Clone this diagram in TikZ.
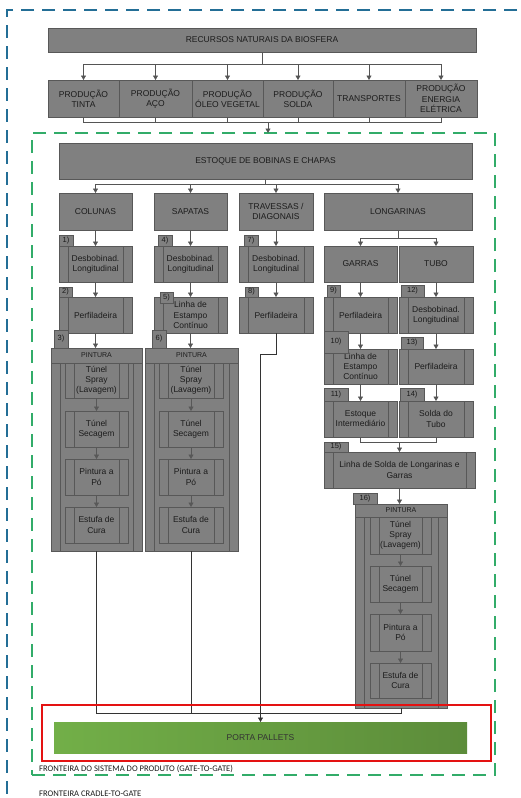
\documentclass[tikz,border=0pt]{standalone}
\usepackage{fontspec}
\setmainfont{Liberation Sans}
\newfontfamily\labelfont{Carlito}
\usetikzlibrary{arrows.meta}

\definecolor{boxgrey}{RGB}{128,128,128}
\definecolor{edgegrey}{RGB}{88,88,88}
\definecolor{inkgrey}{RGB}{28,28,28}
\definecolor{linegrey}{RGB}{85,85,85}
\definecolor{cradleblue}{RGB}{35,110,150}
\definecolor{gategreen}{RGB}{50,172,105}
\definecolor{zonered}{RGB}{228,18,18}
\definecolor{palletlight}{RGB}{114,175,72}
\definecolor{palletdark}{RGB}{92,140,58}

% box from corner (x1,y1) to corner (x2,y2): [style]{name}{x1}{y1}{x2}{y2}{text}
\newcommand\mkbox[7][]{%
  \node[gbox,#1,minimum width={(#5-#3)*1pt},minimum height={(#6-#4)*1pt}]
    (#2) at ({(#3+#5)/2},{(#4+#6)/2}) {#7};}

\tikzset{
  gbox/.style={draw=edgegrey, fill=boxgrey, line width=0.6pt, text=inkgrey,
    align=center, inner sep=0pt, outer sep=0pt,
    font=\fontsize{8.5}{10.2}\selectfont},
  sidebars/.style={path picture={
    \draw[edgegrey, line width=0.6pt]
      ([xshift=9pt]path picture bounding box.north west) --
      ([xshift=9pt]path picture bounding box.south west)
      ([xshift=-9pt]path picture bounding box.north east) --
      ([xshift=-9pt]path picture bounding box.south east);}},
  proc/.style={sidebars},
  tagbox/.style={font=\fontsize{7.5}{8}\selectfont},
  hdr/.style={font=\fontsize{7}{8}\selectfont},
  conn/.style={draw=linegrey, line width=0.6pt},
  arr/.style={conn, -{Triangle[width=5pt,length=4.5pt]}},
  inarr/.style={draw=edgegrey, line width=0.6pt, -{Triangle[width=5pt,length=4.5pt,fill=edgegrey]}},
  dconn/.style={draw=black!80, line width=0.6pt},
  darr/.style={dconn, -{Triangle[width=5pt,length=4.5pt]}},
  lbl/.style={font=\labelfont\fontsize{8.6}{9}\selectfont, text=inkgrey, inner sep=0pt, anchor=west},
}

\begin{document}
\begin{tikzpicture}[x=1pt,y=-1pt]
\clip (0,0) rectangle (520,798);
\fill[white] (0,0) rectangle (520,798);

% outer boundary (cradle-to-gate)
\mkbox[fill=none, draw=cradleblue, line width=1.3pt, dash pattern=on 13pt off 8pt]{cradle}{7}{10}{545}{830}{}
% inner boundary (gate-to-gate)
\mkbox[fill=none, draw=gategreen, line width=1.3pt, dash pattern=on 13pt off 8pt]{gate}{32}{133}{495}{775}{}

% natural resources and upstream production
\mkbox{rec}{48}{28}{476}{52}{RECURSOS NATURAIS DA BIOSFERA}
\mkbox{p1}{48}{80}{119}{117}{PRODUÇÃO\\TINTA}
\mkbox{p2}{119}{80}{192}{117}{PRODUÇÃO\\AÇO}
\mkbox{p3}{192}{80}{263}{117}{PRODUÇÃO\\ÓLEO VEGETAL}
\mkbox{p4}{263}{80}{333}{117}{PRODUÇÃO\\SOLDA}
\mkbox{p5}{333}{80}{405}{117}{TRANSPORTES}
\mkbox{p6}{405}{80}{477}{117}{PRODUÇÃO\\ENERGIA\\ELÉTRICA}

\draw[conn] (rec.south) -- ++(0,12) coordinate (jr);
\foreach \n in {p1,p2,p3,p4,p5,p6} \draw[arr] (jr) -| (\n.north);
\coordinate (jp) at (268,122);
\foreach \n in {p1,p2,p3,p4,p5,p6} \draw[conn] (\n.south) |- (jp);
\draw[arr] (jp) -- (jp |- gate.north);

% coil and sheet stock, product families
\mkbox{est}{59}{143}{472}{179}{ESTOQUE DE BOBINAS E CHAPAS}
\mkbox{col}{59}{193}{132}{230}{COLUNAS}
\mkbox{sap}{154}{193}{227}{230}{SAPATAS}
\mkbox{tra}{239}{193}{313}{230}{TRAVESSAS /\\DIAGONAIS}
\mkbox{lon}{324}{193}{472}{230}{LONGARINAS}
\draw[conn] (est.south) -- ++(0,5) coordinate (je);
\foreach \n in {col,sap,tra,lon} \draw[arr] (je) -| (\n.north);

% columns
\mkbox[proc]{d1}{59}{246}{132}{282}{Desbobinad.\\Longitudinal}
\mkbox[proc]{pf2}{59}{297}{132}{333}{Perfiladeira}
% base plates
\mkbox[proc]{d4}{154}{246}{227}{282}{Desbobinad.\\Longitudinal}
\mkbox[proc]{le5}{154}{297}{227}{333}{Linha de\\Estampo\\Contínuo}
% cross members
\mkbox[proc]{d7}{239}{246}{313}{282}{Desbobinad.\\Longitudinal}
\mkbox[proc]{pf8}{239}{297}{313}{333}{Perfiladeira}
% beams: hooks and tube
\mkbox{gar}{324}{246}{397}{282}{GARRAS}
\mkbox{tub}{399}{246}{473}{282}{TUBO}
\mkbox[proc]{pf9}{324}{297}{397}{333}{Perfiladeira}
\mkbox[proc]{d12}{399}{297}{473}{333}{Desbobinad.\\Longitudinal}
\mkbox[proc]{le10}{324}{349}{397}{384}{Linha de\\Estampo\\Contínuo}
\mkbox[proc]{pf13}{399}{349}{473}{384}{Perfiladeira}
\mkbox[proc]{ei11}{324}{401}{397}{437}{Estoque\\Intermediário}
\mkbox[proc]{st14}{399}{401}{473}{437}{Solda do\\Tubo}
\mkbox[proc]{ls15}{324}{452}{475}{488}{Linha de Solda de Longarinas e\\Garras}

\draw[arr] (col.south) -- (d1.north);
\draw[arr] (d1.south) -- (pf2.north);
\draw[arr] (sap.south) -- (d4.north);
\draw[arr] (d4.south) -- (le5.north);
\draw[arr] (tra.south) -- (d7.north);
\draw[arr] (d7.south) -- (pf8.north);
\draw[conn] (lon.south) -- ++(0,8) coordinate (jl);
\draw[arr] (jl) -| (gar.north);
\draw[arr] (jl) -| (tub.north);
\draw[arr] (gar.south) -- (pf9.north);
\draw[arr] (pf9.south) -- (le10.north);
\draw[arr] (le10.south) -- (ei11.north);
\draw[arr] (tub.south) -- (d12.north);
\draw[arr] (d12.south) -- (pf13.north);
\draw[arr] (pf13.south) -- (st14.north);
\coordinate (jx) at (399.5,442);
\draw[conn] (ei11.south) |- (jx);
\draw[conn] (st14.south) |- (jx);
\draw[arr] (jx) -- (ls15.north);

% painting lines
\mkbox[sidebars]{c1}{51}{363}{142}{551}{}
\mkbox[hdr]{c1h}{51}{348}{142}{363}{PINTURA}
\mkbox[proc]{s1a}{65}{363}{128}{398}{Túnel\\Spray\\(Lavagem)}
\mkbox[proc]{s1b}{65}{411}{128}{447}{Túnel\\Secagem}
\mkbox[proc]{s1c}{65}{459}{128}{495}{Pintura a\\Pó}
\mkbox[proc]{s1d}{65}{507}{128}{543}{Estufa de\\Cura}

\mkbox[sidebars]{c2}{145}{363}{238}{551}{}
\mkbox[hdr]{c2h}{145}{348}{238}{363}{PINTURA}
\mkbox[proc]{s2a}{159}{363}{223}{398}{Túnel\\Spray\\(Lavagem)}
\mkbox[proc]{s2b}{159}{411}{223}{447}{Túnel\\Secagem}
\mkbox[proc]{s2c}{159}{459}{223}{495}{Pintura a\\Pó}
\mkbox[proc]{s2d}{159}{507}{223}{543}{Estufa de\\Cura}

\mkbox[sidebars]{c3}{355}{517}{447}{708}{}
\mkbox[hdr]{c3h}{355}{504}{447}{517}{PINTURA}
\mkbox[proc]{s3a}{370}{517}{431}{554}{Túnel\\Spray\\(Lavagem)}
\mkbox[proc]{s3b}{370}{566}{431}{602}{Túnel\\Secagem}
\mkbox[proc]{s3c}{370}{614}{431}{651}{Pintura a\\Pó}
\mkbox[proc]{s3d}{370}{663}{431}{698}{Estufa de\\Cura}

\foreach \c in {1,2,3} {
  \draw[inarr] (s\c a.south) -- (s\c b.north);
  \draw[inarr] (s\c b.south) -- (s\c c.north);
  \draw[inarr] (s\c c.south) -- (s\c d.north);
}
\draw[arr] (pf2.south) -- (pf2.south |- c1h.north);
\draw[arr] (le5.south) -- (le5.south |- c2h.north);
\draw[arr] (ls15.south) -- (ls15.south |- c3h.north);

% step numbers
\mkbox[tagbox]{t1}{59}{235}{73}{246}{1)}
\mkbox[tagbox]{t2}{59}{287}{72}{297}{2)}
\mkbox[tagbox]{t3}{54}{330}{68}{348}{3)}
\mkbox[tagbox]{t4}{158}{235}{172}{246}{4)}
\mkbox[tagbox]{t5}{160}{292}{173}{303}{5)}
\mkbox[tagbox]{t6}{152}{330}{166}{348}{6)}
\mkbox[tagbox]{t7}{244}{235}{258}{246}{7)}
\mkbox[tagbox]{t8}{245}{287}{258}{297}{8)}
\mkbox[tagbox]{t9}{327}{285}{340}{297}{9)}
\mkbox[tagbox]{t10}{324}{331}{348}{353}{10)}
\mkbox[tagbox]{t11}{324}{388}{348}{401}{11)}
\mkbox[tagbox]{t12}{401}{285}{424}{297}{12)}
\mkbox[tagbox]{t13}{401}{337}{423}{349}{13)}
\mkbox[tagbox]{t14}{400}{388}{424}{401}{14)}
\mkbox[tagbox]{t15}{324}{442}{348}{452}{15)}
\mkbox[tagbox]{t16}{353}{493}{377}{504}{16)}

% pallet racks
\mkbox[draw=none, left color=palletlight, right color=palletdark,
  text=inkgrey!90]{pal}{54}{722}{467}{753}{PORTA PALLETS}
\coordinate (jpal) at (260.5,713);
\draw[dconn] (c1.south) |- (jpal);
\draw[dconn] (c2.south) |- (jpal);
\draw[dconn] (c3.south) |- (jpal);
\draw[darr] (pf8.south) -- ++(0,21) -| (pal.north);

\mkbox[fill=none, draw=zonered, line width=2.6pt]{zone}{42}{705}{491}{761}{}

% boundary captions
\node[lbl] (gatelbl) at (39,769) {FRONTEIRA DO SISTEMA DO PRODUTO (GATE-TO-GATE)};
\node[lbl] (cradlelbl) at (39,794) {FRONTEIRA CRADLE-TO-GATE};
\end{tikzpicture}
\end{document}
